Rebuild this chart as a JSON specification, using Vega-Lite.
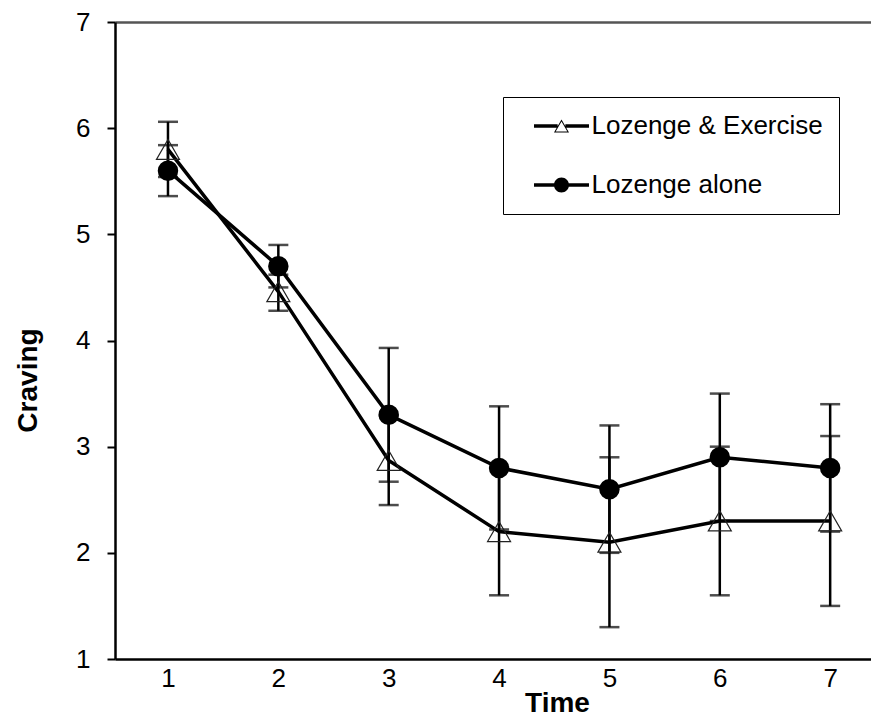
{
  "$schema": "https://vega.github.io/schema/vega-lite/v6.json",
  "autosize": "none",
  "width": 756,
  "height": 637,
  "padding": {"left": 115, "top": 22, "right": 0, "bottom": 58},
  "background": "white",
  "config": {
    "font": "Liberation Sans",
    "view": {"stroke": null},
    "axis": {"grid": false}
  },
  "data": {
    "values": [
      {"time": 1, "series": "Lozenge & Exercise", "mean": 5.8, "lo": 5.54, "hi": 6.06},
      {"time": 2, "series": "Lozenge & Exercise", "mean": 4.46, "lo": 4.28, "hi": 4.62},
      {"time": 3, "series": "Lozenge & Exercise", "mean": 2.87, "lo": 2.45, "hi": 3.29},
      {"time": 4, "series": "Lozenge & Exercise", "mean": 2.2, "lo": 1.6, "hi": 2.8},
      {"time": 5, "series": "Lozenge & Exercise", "mean": 2.1, "lo": 1.3, "hi": 2.9},
      {"time": 6, "series": "Lozenge & Exercise", "mean": 2.3, "lo": 1.6, "hi": 3.0},
      {"time": 7, "series": "Lozenge & Exercise", "mean": 2.3, "lo": 1.5, "hi": 3.1},
      {"time": 1, "series": "Lozenge alone", "mean": 5.6, "lo": 5.36, "hi": 5.84},
      {"time": 2, "series": "Lozenge alone", "mean": 4.7, "lo": 4.5, "hi": 4.9},
      {"time": 3, "series": "Lozenge alone", "mean": 3.3, "lo": 2.67, "hi": 3.93},
      {"time": 4, "series": "Lozenge alone", "mean": 2.8, "lo": 2.22, "hi": 3.38},
      {"time": 5, "series": "Lozenge alone", "mean": 2.6, "lo": 2.0, "hi": 3.2},
      {"time": 6, "series": "Lozenge alone", "mean": 2.9, "lo": 2.3, "hi": 3.5},
      {"time": 7, "series": "Lozenge alone", "mean": 2.8, "lo": 2.2, "hi": 3.4}
    ]
  },
  "resolve": {"axis": {"x": "independent"}},
  "layer": [
    {
      "mark": {"type": "rule", "color": "black", "strokeWidth": 2.5},
      "encoding": {
        "x": {"field": "time", "type": "quantitative", "scale": {"domain": [0.52, 7.37], "nice": false, "zero": false},
              "axis": {"orient": "top", "labels": false, "ticks": false, "title": null, "domainColor": "#555", "domainWidth": 2.5}},
        "y": {"field": "lo", "type": "quantitative", "scale": {"domain": [1, 7], "nice": false, "zero": false},
              "axis": {"values": [1, 2, 3, 4, 5, 6, 7], "format": "d", "tickSize": 8, "tickWidth": 2, "tickColor": "black", "domainColor": "black", "domainWidth": 2.5,
                       "labelFontSize": 26, "labelColor": "black", "labelPadding": 17, "title": "Craving", "titleFontSize": 28, "titleFontWeight": "bold",
                       "titleColor": "black", "titleX": -73, "titleY": 358, "titleAngle": 270, "titleBaseline": "bottom", "titleAlign": "center"}},
        "y2": {"field": "hi"}
      }
    },
    {
      "mark": {"type": "tick", "orient": "horizontal", "color": "black", "size": 20, "thickness": 2.5},
      "encoding": {
        "x": {"field": "time", "type": "quantitative", "axis": null},
        "y": {"field": "lo", "type": "quantitative"}
      }
    },
    {
      "mark": {"type": "tick", "orient": "horizontal", "color": "black", "size": 20, "thickness": 2.5},
      "encoding": {
        "x": {"field": "time", "type": "quantitative", "axis": null},
        "y": {"field": "hi", "type": "quantitative"}
      }
    },
    {
      "mark": {"type": "line", "strokeWidth": 3.5, "color": "black"},
      "encoding": {
        "x": {"field": "time", "type": "quantitative",
              "axis": {"orient": "bottom", "values": [1, 2, 3, 4, 5, 6, 7], "format": "d", "ticks": false, "tickSize": 0, "domainColor": "black", "domainWidth": 2.5,
                       "labelFontSize": 26, "labelColor": "black", "labelPadding": 6, "title": "Time", "titleFontSize": 28, "titleFontWeight": "bold",
                       "titleColor": "black", "titleX": 442, "titleY": 52, "titleBaseline": "alphabetic", "titleAlign": "center"}},
        "y": {"field": "mean", "type": "quantitative"},
        "detail": {"field": "series", "type": "nominal"}
      }
    },
    {
      "transform": [{"filter": "datum.series === 'Lozenge & Exercise'"}],
      "mark": {"type": "point", "shape": "triangle-up", "filled": false, "size": 529, "color": "#222", "strokeWidth": 1.2, "opacity": 1},
      "encoding": {
        "x": {"field": "time", "type": "quantitative", "axis": null},
        "y": {"field": "mean", "type": "quantitative"}
      }
    },
    {
      "transform": [{"filter": "datum.series === 'Lozenge alone'"}],
      "mark": {"type": "point", "shape": "circle", "filled": true, "size": 420, "color": "black", "opacity": 1},
      "encoding": {
        "x": {"field": "time", "type": "quantitative", "axis": null},
        "y": {"field": "mean", "type": "quantitative"}
      }
    },
    {
      "mark": {"type": "point", "filled": true, "fill": "black", "strokeWidth": 0, "size": 676, "opacity": 0},
      "encoding": {
        "x": {"field": "time", "type": "quantitative", "axis": null},
        "y": {"field": "mean", "type": "quantitative"},
        "shape": {"field": "series", "type": "nominal",
                  "scale": {"domain": ["Lozenge & Exercise", "Lozenge alone"],
                            "range": [
                              "M-2.115,-0.135H-0.296V0.135H-2.115Z M0.296,-0.135H2.115V0.135H0.296Z M0,-0.508L0.577,0.493L-0.577,0.493Z M0,-0.355L-0.446,0.417L0.446,0.417Z",
                              "M-2.115,-0.135H-0.55V0.135H-2.115Z M0.55,-0.135H2.115V0.135H0.55Z M0.577,0 C0.577,0.319 0.319,0.577 0,0.577 C-0.319,0.577 -0.577,0.319 -0.577,0 C-0.577,-0.319 -0.319,-0.577 0,-0.577 C0.319,-0.577 0.577,-0.319 0.577,0 Z"
                            ]},
                  "legend": {"orient": "none", "legendX": 388, "legendY": 75, "title": null, "padding": 16, "rowPadding": 33,
                             "strokeColor": "black",
                             "symbolSize": 676, "symbolStrokeWidth": 0, "symbolFillColor": "black", "symbolOpacity": 1,
                             "symbolOffset": 29.5, "labelOffset": 17, "labelFontSize": 26, "labelColor": "black", "labelLimit": 400,
                             "encode": {
                               "legend": {"update": {"strokeWidth": {"value": 2}}},
                               "symbols": {"update": {"opacity": {"value": 1}, "fillOpacity": {"value": 1}, "fill": {"value": "black"}, "strokeWidth": {"value": 0}}}
                             }}}
      }
    }
  ]
}
